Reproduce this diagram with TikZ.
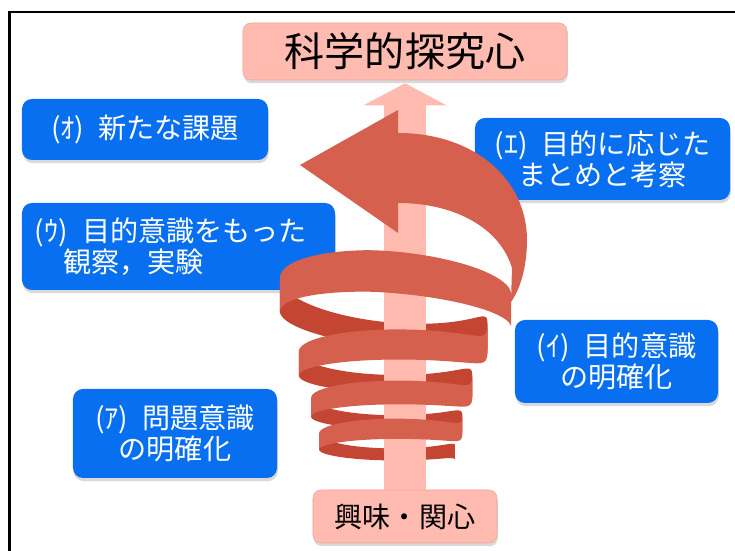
\documentclass[tikz,border=0pt]{standalone}
\usepackage{fontspec}
\setmainfont{Noto Sans CJK JP}
\usetikzlibrary{arrows.meta,shadows}

\definecolor{boxblue}{RGB}{8,112,240}
\definecolor{boxpink}{RGB}{255,187,175}
\definecolor{pinkedge}{RGB}{240,165,150}
\definecolor{ribbonfront}{RGB}{214,96,78}
\definecolor{ribbonback}{RGB}{196,70,50}

% one piece of the ribbon between two turn values
\newcommand{\ribbonpiece}[3]{%
  \fill[#1] plot[domain=#2:#3] ({spx(\x)},{spc(\x)-sph(\x)})
    -- plot[domain=#3:#2] ({spx(\x)},{spc(\x)+sph(\x)}) -- cycle;}

\begin{document}
\begin{tikzpicture}[x=0.25mm,y=-0.25mm,samples=40,
    declare function={
      spu(\t)=max(\t+atan2(0.8*sin(360*\t),1-0.8*cos(360*\t))/180,0.47);
      spr(\t)=55+67*exp(-0.4308*\t);
      spy(\u)=578.3-298.3*exp(-0.2231*\u);
      spb(\u)=10.5+28.5*exp(-0.899*\u);
      spt(\u)=70*exp(-3*\u);
      spw(\u)=8+17*exp(-0.6*\u);
      spx(\t)=389+spr(\t)*cos(360*\t);
      spc(\t)=spy(spu(\t))+spt(spu(\t))*(cos(360*\t)-1)/2
        -spb(spu(\t))*sin(360*\t);
      sph(\t)=spw(spu(\t))*(0.8+0.2*sin(360*\t));},
    bluebox/.style={fill=boxblue,text=white,rounded corners=2.5mm,inner sep=0pt,
      align=center,font=\fontsize{20}{22}\selectfont,
      drop shadow={opacity=0.3,shadow xshift=0.2mm,shadow yshift=-0.8mm}},
    pinkbox/.style={fill=boxpink,draw=pinkedge,rounded corners=2mm,inner sep=0pt,
      drop shadow={opacity=0.3,shadow xshift=0.2mm,shadow yshift=-0.8mm}},
    shaft/.style={draw=boxpink,line width=10.5mm,
      -{Triangle[length=5.5mm,width=20.5mm]},shorten >=0.75mm}]

\useasboundingbox (0,0) rectangle (735,551);
\draw[line width=0.55mm] (9.5,551) -- (9.5,11.7) -- (735,11.7);

\node[pinkbox,minimum width=81mm,minimum height=14.25mm,
  font=\fontsize{28.5}{30}\selectfont] (goal) at (405,51.5) {科学的探究心};
\node[pinkbox,minimum width=46mm,minimum height=13.25mm,
  font=\fontsize{20}{22}\selectfont] (interest) at (405,516.5) {興味・関心};

\node[bluebox,minimum width=61.5mm,minimum height=15.25mm] (stepO) at (145,129.5)
  {(ｵ)\hspace{0.5em}新たな課題};
\node[bluebox,minimum height=21.75mm,align=left,inner xsep=3.25mm,
  text width=71.75mm] (stepU) at (178.5,246.5)
  {(ｳ)\hspace{0.5em}目的意識をもった\\\hspace*{1em}観察，実験};
\node[bluebox,minimum width=63.75mm,minimum height=20.5mm] (stepE) at (602.5,159)
  {(ｴ)\hspace{0.5em}目的に応じた\\まとめと考察};
\node[bluebox,minimum width=50.75mm,minimum height=20.75mm] (stepI) at (616.5,361.5)
  {(ｲ)\hspace{0.5em}目的意識\\の明確化};
\node[bluebox,minimum width=51mm,minimum height=22.25mm] (stepA) at (175,433.5)
  {(ｱ)\hspace{0.5em}問題意識\\の明確化};

% spiral: back halves, then the arrow, then front halves
\foreach \a/\b in {0.5/1,1.5/2,2.5/3,3.5/3.97} {\ribbonpiece{ribbonback}{\a}{\b}}
\draw[shaft] (interest.north) -- (goal.south);
\foreach \a/\b in {0/0.5,1/1.5,2/2.5,3/3.5} {\ribbonpiece{ribbonfront}{\a}{\b}}

\fill[ribbonfront] (300,165) -- (398,110) -- (398,133)
  .. controls (475,133) and (527,180) .. (527,240)
  .. controls (527,265) and (521,288) .. (511,302) -- (512,268)
  .. controls (500,228) and (455,203) .. (398,203) -- (398,233) -- cycle;

\end{tikzpicture}
\end{document}
